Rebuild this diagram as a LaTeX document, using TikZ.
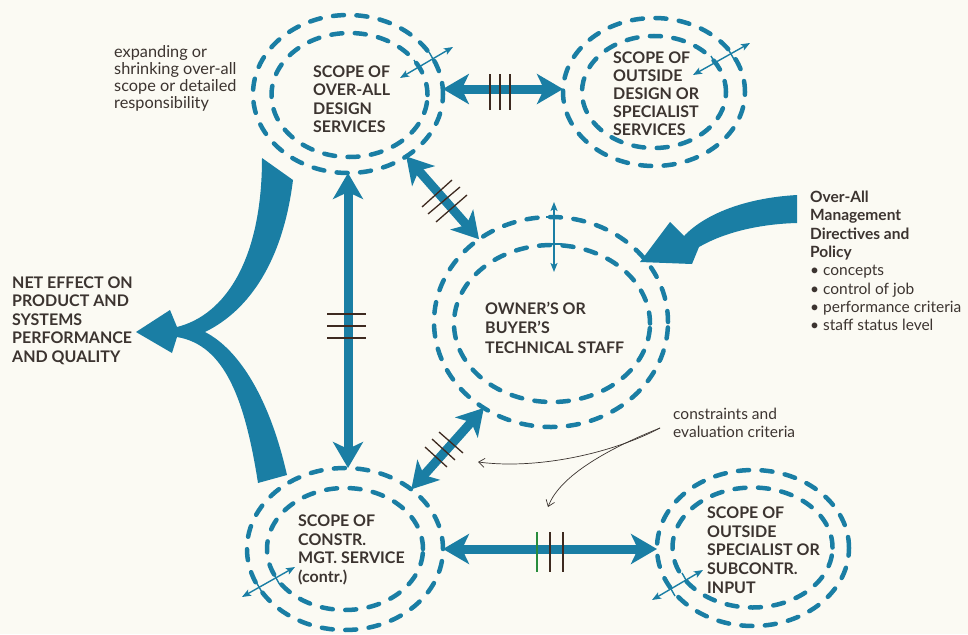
\documentclass[tikz,border=0pt]{standalone}
\usepackage{fontspec}
\setmainfont{Lato}
\usetikzlibrary{arrows.meta,shapes.geometric}
\definecolor{dblue}{RGB}{26,126,164}
\definecolor{ink}{RGB}{60,52,48}
\definecolor{tickc}{RGB}{62,42,32}
\definecolor{tickg}{RGB}{40,140,60}
\definecolor{paper}{RGB}{251,250,243}
\begin{document}
\begin{tikzpicture}[x=1pt,y=-1pt,
  ring/.style={ellipse, draw=dblue, line width=4.5pt, dash pattern=on 11pt off 12.5pt, line cap=round, inner sep=0pt, outer sep=0pt},
  bigarrow/.style={draw=dblue, line width=9pt, {Stealth[length=26pt,width=30pt,inset=7pt]}-{Stealth[length=26pt,width=30pt,inset=7pt]}},
  thinarrow/.style={draw=dblue, line width=1.4pt, {Stealth[length=9pt,width=7pt,inset=2pt]}-{Stealth[length=9pt,width=7pt,inset=2pt]}},
  crossmark/.style={draw=dblue, line width=1.4pt},
  tickmark/.style={draw=tickc, line width=1.3pt},
  callout/.style={draw=ink, line width=0.7pt, -{Straight Barb[length=6pt,width=9pt]}},
  capstext/.style={anchor=north west, inner sep=0pt, align=left, text=ink, font=\bfseries\fontsize{16}{18.5}\selectfont},
  lowtext/.style={anchor=north west, inner sep=0pt, align=left, text=ink, font=\fontsize{15.5}{18.3}\selectfont},
  boldtext/.style={anchor=north west, inner sep=0pt, align=left, text=ink, font=\bfseries\fontsize{15.5}{18.3}\selectfont}
]
\fill[paper] (0,0) rectangle (968,634);
\useasboundingbox (0,0) rectangle (968,634);

% ellipses
\node[ring, minimum width=190pt, minimum height=158pt] (e1o) at (348,94) {};
\node[ring, minimum width=156pt, minimum height=124pt] (e1i) at (349.5,95) {};
\node[ring, minimum width=182pt, minimum height=148pt] (e2o) at (654,92) {};
\node[ring, minimum width=144pt, minimum height=112pt] (e2i) at (654,92) {};
\node[ring, minimum width=234pt, minimum height=210pt] (e3o) at (551,322) {};
\node[ring, minimum width=196pt, minimum height=157pt] (e3i) at (552,323.5) {};
\node[ring, minimum width=196pt, minimum height=162pt] (e4o) at (345,549) {};
\node[ring, minimum width=156pt, minimum height=122pt] (e4i) at (345,549) {};
\node[ring, minimum width=192pt, minimum height=156pt] (e5o) at (753,548) {};
\node[ring, minimum width=160pt, minimum height=120pt] (e5i) at (752.5,547.5) {};

% thick double arrows
\draw[bigarrow] (e1o.3) -- (e1o.3 -| e2o.west);
\draw[bigarrow] (e4o.east) -- (e4o.east -| e5o.west);
\draw[bigarrow] (e1o.south) -- (e1o.south |- e4o.north);
\draw[bigarrow] (e1o.-47) -- (e3o.131);
\draw[bigarrow] (e4o.42) -- (e3o.232);

% tick marks
\draw[tickmark] (490,74) -- (490,110);
\draw[tickmark] (500,74) -- (500,110);
\draw[tickmark] (510,74) -- (510,110);
\draw[tickmark] (327,314) -- (366,314);
\draw[tickmark] (327,326) -- (366,326);
\draw[tickmark] (327,338) -- (366,338);
\draw[tickmark] (422,207) -- (452,180);
\draw[tickmark] (428,214) -- (460,187);
\draw[tickmark] (436,222) -- (467,195);
\draw[tickmark] (425,447) -- (447,467);
\draw[tickmark] (432,439) -- (455,460);
\draw[tickmark] (439,432) -- (463,453);
\draw[tickmark, draw=tickg] (537,532) -- (537,572);
\draw[tickmark] (550,532) -- (550,572);
\draw[tickmark] (563,532) -- (563,572);

% Y-shaped arrow to the left
\fill[dblue] (262,158) -- (293,180) .. controls (283,260) and (250,310) .. (205,332)
  .. controls (240,350) and (270,400) .. (287,475) -- (258,483)
  .. controls (245,400) and (225,345) .. (177,337) -- (172,353) -- (136,332) -- (170,310) -- (177,327)
  .. controls (225,315) and (262,260) .. (262,158) -- cycle;

% big arrow from the right
\fill[dblue] (797,195) .. controls (745,198) and (705,214) .. (684,236) -- (670,222) -- (640,262)
  -- (692,264) -- (699,247) .. controls (725,232) and (760,224) .. (797,223) -- cycle;

% small thin double arrows
\draw[thinarrow] (400,78) -- (453,47);
\draw[crossmark] (414,60) -- (422,74);
\draw[crossmark] (429,52) -- (437,66);
\draw[thinarrow] (693,75) -- (750,43);
\draw[crossmark] (711,56) -- (719,70);
\draw[crossmark] (727,47) -- (735,61);
\draw[thinarrow] (554,202) -- (554,272);
\draw[crossmark] (546,217) -- (562,217);
\draw[crossmark] (546,244) -- (562,244);
\draw[thinarrow] (295,567) -- (242,597);
\draw[crossmark] (272,571) -- (280,585);
\draw[crossmark] (255,580) -- (263,594);
\draw[thinarrow] (703,570) -- (652,600);
\draw[crossmark] (682,573) -- (690,587);
\draw[crossmark] (667,582) -- (675,596);

% callout lines
\coordinate (cfork) at (660,428);
\coordinate (ctipa) at (478,462);
\coordinate (ctipb) at (548,507);
\draw[callout] (cfork) .. controls (615,452) and (540,470) .. (ctipa);
\draw[callout] (cfork) .. controls (610,448) and (560,475) .. (ctipb);

% texts
\node[lowtext, font=\fontsize{16.3}{16.9}\selectfont] (expand) at (114,45.2) {expanding or\\shrinking over-all\\scope or detailed\\responsibility};
\node[capstext] (t1) at (313,65.5) {SCOPE OF\\OVER-ALL\\DESIGN\\SERVICES};
\node[capstext, font=\bfseries\fontsize{16}{18}\selectfont] (t2) at (613,51.5) {SCOPE OF\\OUTSIDE\\DESIGN OR\\SPECIALIST\\SERVICES};
\node[capstext] (tnet) at (12,276.5) {NET EFFECT ON\\PRODUCT AND\\SYSTEMS\\PERFORMANCE\\AND QUALITY};
\node[capstext, font=\bfseries\fontsize{16}{19.5}\selectfont] (t3) at (485,301.5) {OWNER’S OR\\BUYER’S\\TECHNICAL STAFF};
\node[capstext, font=\bfseries\fontsize{16}{18.7}\selectfont] (t4) at (298,514.5) {SCOPE OF\\CONSTR.\\MGT. SERVICE\\(contr.)};
\node[capstext, font=\bfseries\fontsize{16}{18.7}\selectfont] (t5) at (707,506.5) {SCOPE OF\\OUTSIDE\\SPECIALIST OR\\SUBCONTR.\\INPUT};
\node[boldtext] (mgmt) at (810,190.8) {Over-All\\Management\\Directives and\\Policy\\\textmd{\textbullet\ concepts}\\\textmd{\textbullet\ control of job}\\\textmd{\textbullet\ performance criteria}\\\textmd{\textbullet\ staff status level}};
\node[lowtext] (constr) at (673,407.8) {constraints and\\evaluation criteria};
\end{tikzpicture}
\end{document}
